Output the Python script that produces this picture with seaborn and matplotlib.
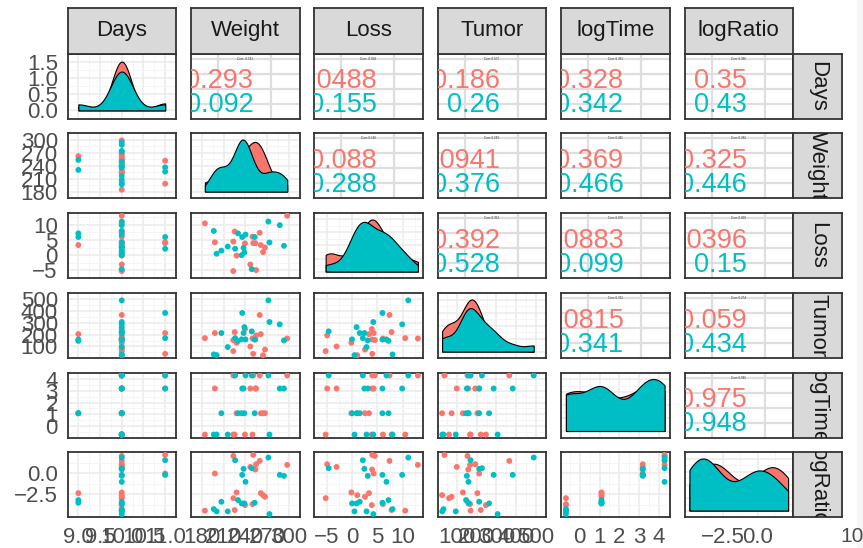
import numpy as np
import pandas as pd
import matplotlib
matplotlib.use("Agg")
import matplotlib.pyplot as plt
from matplotlib.patches import Rectangle
import seaborn as sns

# ---------------- data ----------------
variables = ["Days", "Weight", "Loss", "Tumor", "logTime", "logRatio"]

group = ["A"] * 17 + ["B"] * 17
days = [10, 11, 10, 10, 11, 10, 10, 10, 10, 9, 10, 10, 10, 10, 10, 10, 10,
        11, 10, 10, 10, 10, 11, 10, 10, 10, 9, 10, 10, 9, 10, 10, 10, 10]
weight = [223.5, 251, 298, 260, 198, 247, 255, 254, 228, 261.5, 264.6, 267.3,
          223.5, 239.6, 250, 184.2, 225.4,
          226, 272, 249, 240.4, 237.7, 235.8, 287.7, 293.5, 207, 230, 235,
          238.8, 253, 196.5, 200.4, 215.8, 273.5]
loss = [4.5, 4.0, 13.0, 7.4, 4.27, -3.05, -4.9, 3.96, -0.12, 3.35, 1.04, 2.56,
        -5.2, 3.9, 6.1, 10.5, 7.8,
        2.13, 11.1, -4.6, 6.8, 2.44, 6.0, 9.9, 3.1, 1.52, 7.2, 0.0, 0.91, 6.0,
        8.0, 0.49, 2.87, 4.2]
tumor = [154, 38, 167, 365, 213, 100, 193, 158, 131, 204, 26, 74, 61, 247, 167,
         170, 221,
         170, 488, 227, 159, 213, 382, 286, 151, 213, 147, 160, 263, 158, 33,
         27, 95, 306]
log_time = [4.277, 4.277, 4.277, 4.277, 3.178, 3.178, 3.178, 3.178, 1.099,
            1.099, 1.099, 1.099, -0.693, -0.693, -0.693, -0.693, -0.693,
            4.277, 4.277, 4.277, 4.277, 3.178, 3.178, 3.178, 3.178, 1.099,
            1.099, 1.099, 1.099, 1.099, -0.693, -0.693, -0.693, -0.693]
log_ratio = [2.06, 2.18, 0.99, 1.47, -0.04, 0.75, 1.07, 0.44, -2.30, -2.38,
             -2.62, -2.82, -2.98, -3.81, -3.69, -4.48, -4.40,
             1.55, 1.87, 0.60, -1.03, 0.52, -0.20, -0.20, -0.32, -3.41, -3.21,
             -3.61, -3.61, -3.53, -4.29, -4.56, -4.56, -4.88]

# correlation texts of the upper panels (row-major, upper triangle)
cor_red = ["0.293", "0.0488", "0.186", "0.328", "0.35",
           "0.088", "0.0941", "0.369", "0.325",
           "0.392", "0.0883", "0.0396",
           "0.0815", "0.059",
           "0.975"]
cor_cyan = ["0.092", "0.155", "0.26", "0.342", "0.43",
            "0.288", "0.376", "0.466", "0.446",
            "0.528", "0.099", "0.15",
            "0.341", "0.434",
            "0.948"]

tick_values = {
    "Days": [9, 9.5, 10, 10.5, 11],
    "Weight": [180, 210, 240, 270, 300],
    "Loss": [-5, 0, 5, 10],
    "Tumor": [100, 200, 300, 400, 500],
    "logTime": [0, 1, 2, 3, 4],
    "logRatio": [-2.5, 0.0],
}
tick_labels = {
    "Days": ["9.0", "9.5", "10.0", "10.5", "11.0"],
    "Weight": ["180", "210", "240", "270", "300"],
    "Loss": ["\u22125", "0", "5", "10"],
    "Tumor": ["100", "200", "300", "400", "500"],
    "logTime": ["0", "1", "2", "3", "4"],
    "logRatio": ["\u22122.5", "0.0"],
}
density_ticks = [0.0, 0.5, 1.0, 1.5]
density_labels = ["0.0", "0.5", "1.0", "1.5"]

df = pd.DataFrame({"Days": days, "Weight": weight, "Loss": loss,
                   "Tumor": tumor, "logTime": log_time,
                   "logRatio": log_ratio, "Group": group})

# ---------------- style ----------------
sns.set_theme(style="white")
plt.rcParams["font.family"] = ["Liberation Sans", "DejaVu Sans"]
RED, CYAN = "#F8766D", "#00BFC4"
palette = {"A": RED, "B": CYAN}
BORDER = "#333333"
GRID = "#EBEBEB"

W_PX, H_PX = 863, 548
fig = plt.figure(figsize=(W_PX / 100, H_PX / 100), dpi=100)
fig.patch.set_facecolor("white")
fig.patches.append(Rectangle((857 / W_PX, 0), 6 / W_PX, 1, transform=fig.transFigure,
                             color="#F7F7F7", zorder=0))

col_left = [67.5, 191, 314, 437.5, 561, 684.5]
row_top = [53.5, 133, 213, 293, 372.5, 452]
PW, PH = 108.5, 65
TICK_FS = 16


def rect(left, top, w, h):
    return [left / W_PX, 1 - (top + h) / H_PX, w / W_PX, h / H_PX]


def nrd0(kde):
    x = np.asarray(kde.dataset[0])
    sd = x.std(ddof=1)
    q75, q25 = np.percentile(x, [75, 25])
    lo = min(sd, (q75 - q25) / 1.34)
    if lo <= 0:
        lo = sd
    return 0.9 * lo * len(x) ** (-0.2) / sd


def lim(v):
    a, b = min(df[v]), max(df[v])
    r = b - a
    return a - 0.05 * r, b + 0.05 * r


def style_axes(ax):
    for s in ax.spines.values():
        s.set_color(BORDER)
        s.set_linewidth(1.3)
    ax.set_facecolor("white")
    ax.set_axisbelow(True)


def minor_from(major):
    major = list(major)
    step = major[1] - major[0] if len(major) > 1 else 1
    return [major[0] - step / 2] + [m + step / 2 for m in major]


k = 0
for i, yv in enumerate(variables):
    for j, xv in enumerate(variables):
        ax = fig.add_axes(rect(col_left[j], row_top[i], PW, PH))
        style_axes(ax)
        if j > i:
            # correlation panel
            ax.set_xlim(0, 1)
            ax.set_ylim(0, 1)
            for gx in [0.25, 0.74]:
                ax.axvline(gx, color="#DEDEDE", lw=1.6, zorder=0)
            for gy in [0.23, 0.46, 0.69, 0.92]:
                ax.axhline(gy, color="#DEDEDE", lw=1.6, zorder=0)
            r_all = np.corrcoef(df[xv], df[yv])[0, 1]
            ax.text(0.5, 0.92, f"Corr: {r_all:.3f}", fontsize=2.2, color="#333333",
                    ha="center", va="center", transform=ax.transAxes)
            ax.text(0.575, 0.575, cor_red[k], fontsize=19.5, color=RED,
                    ha="right", va="center", transform=ax.transAxes, clip_on=True)
            ax.text(0.575, 0.205, cor_cyan[k], fontsize=19.5, color=CYAN,
                    ha="right", va="center", transform=ax.transAxes, clip_on=True)
            k += 1
            ax.set_xticks([])
            ax.set_yticks([])
        elif j == i:
            # hue order reversed so that seaborn (which draws levels backwards)
            # paints the red group first and the cyan group on top
            sns.kdeplot(data=df, x=xv, hue="Group", hue_order=["B", "A"],
                        palette=palette, ax=ax, fill=True, alpha=1,
                        bw_method=nrd0, cut=0, common_norm=False,
                        common_grid=True, edgecolor="black", linewidth=0.8,
                        legend=False)
            ax.set_xlim(*lim(xv))
            ymax = ax.get_ylim()[1] / 1.05
            ax.set_ylim(-0.05 * ymax, 1.05 * ymax)
            ax.set_xticks(tick_values[xv])
            ax.set_xticks(minor_from(tick_values[xv]), minor=True)
            yt = density_ticks if i == 0 else list(np.linspace(0, ymax, 5))
            ax.set_yticks(yt)
            ax.set_yticks(minor_from(yt), minor=True)
            ax.grid(True, which="major", color=GRID, lw=1.1)
            ax.grid(True, which="minor", color="#F4F4F4", lw=0.6)
        else:
            sns.scatterplot(data=df, x=xv, y=yv, hue="Group", palette=palette,
                            s=18, linewidth=0, legend=False, ax=ax, zorder=3)
            ax.set_xlim(*lim(xv))
            ax.set_ylim(*lim(yv))
            ax.set_xticks(tick_values[xv])
            ax.set_xticks(minor_from(tick_values[xv]), minor=True)
            ax.set_yticks(tick_values[yv])
            ax.set_yticks(minor_from(tick_values[yv]), minor=True)
            ax.grid(True, which="major", color=GRID, lw=1.1)
            ax.grid(True, which="minor", color="#F4F4F4", lw=0.6)
        ax.set_xlabel("")
        ax.set_ylabel("")
        ax.tick_params(which="minor", length=0)
        ax.tick_params(which="major", length=4.5, width=1.3, color=BORDER,
                       labelsize=TICK_FS, labelcolor="#4D4D4D", pad=2.5)
        # axis labels only on outer edges
        if j == 0 and i == 0:
            ax.set_yticks(density_ticks)
            ax.set_yticklabels(density_labels)
        elif j == 0:
            ax.set_yticklabels(tick_labels[yv])
        else:
            ax.tick_params(axis="y", which="major", length=0, labelleft=False)
        if i == len(variables) - 1:
            ax.set_xticklabels(tick_labels[xv])
        else:
            ax.tick_params(axis="x", which="major", length=0, labelbottom=False)


def strip(r, label, rotation=0):
    sax = fig.add_axes(rect(*r))
    sax.set_facecolor("#D9D9D9")
    for s in sax.spines.values():
        s.set_color(BORDER)
        s.set_linewidth(1.3)
    sax.set_xticks([])
    sax.set_yticks([])
    sax.text(0.5, 0.5, label, ha="center", va="center", fontsize=16,
             color="#1A1A1A", rotation=rotation, transform=sax.transAxes,
             clip_on=True)


for j, v in enumerate(variables):
    strip((col_left[j], 7.5, PW, 46), v)
for i, v in enumerate(variables):
    strip((793, row_top[i], 49, PH), v, rotation=-90)

fig.text(840 / W_PX, 1 - 536 / H_PX, "10", fontsize=TICK_FS - 1, color="#4D4D4D",
         ha="left", va="center")

fig.savefig("out.png", dpi=100)
